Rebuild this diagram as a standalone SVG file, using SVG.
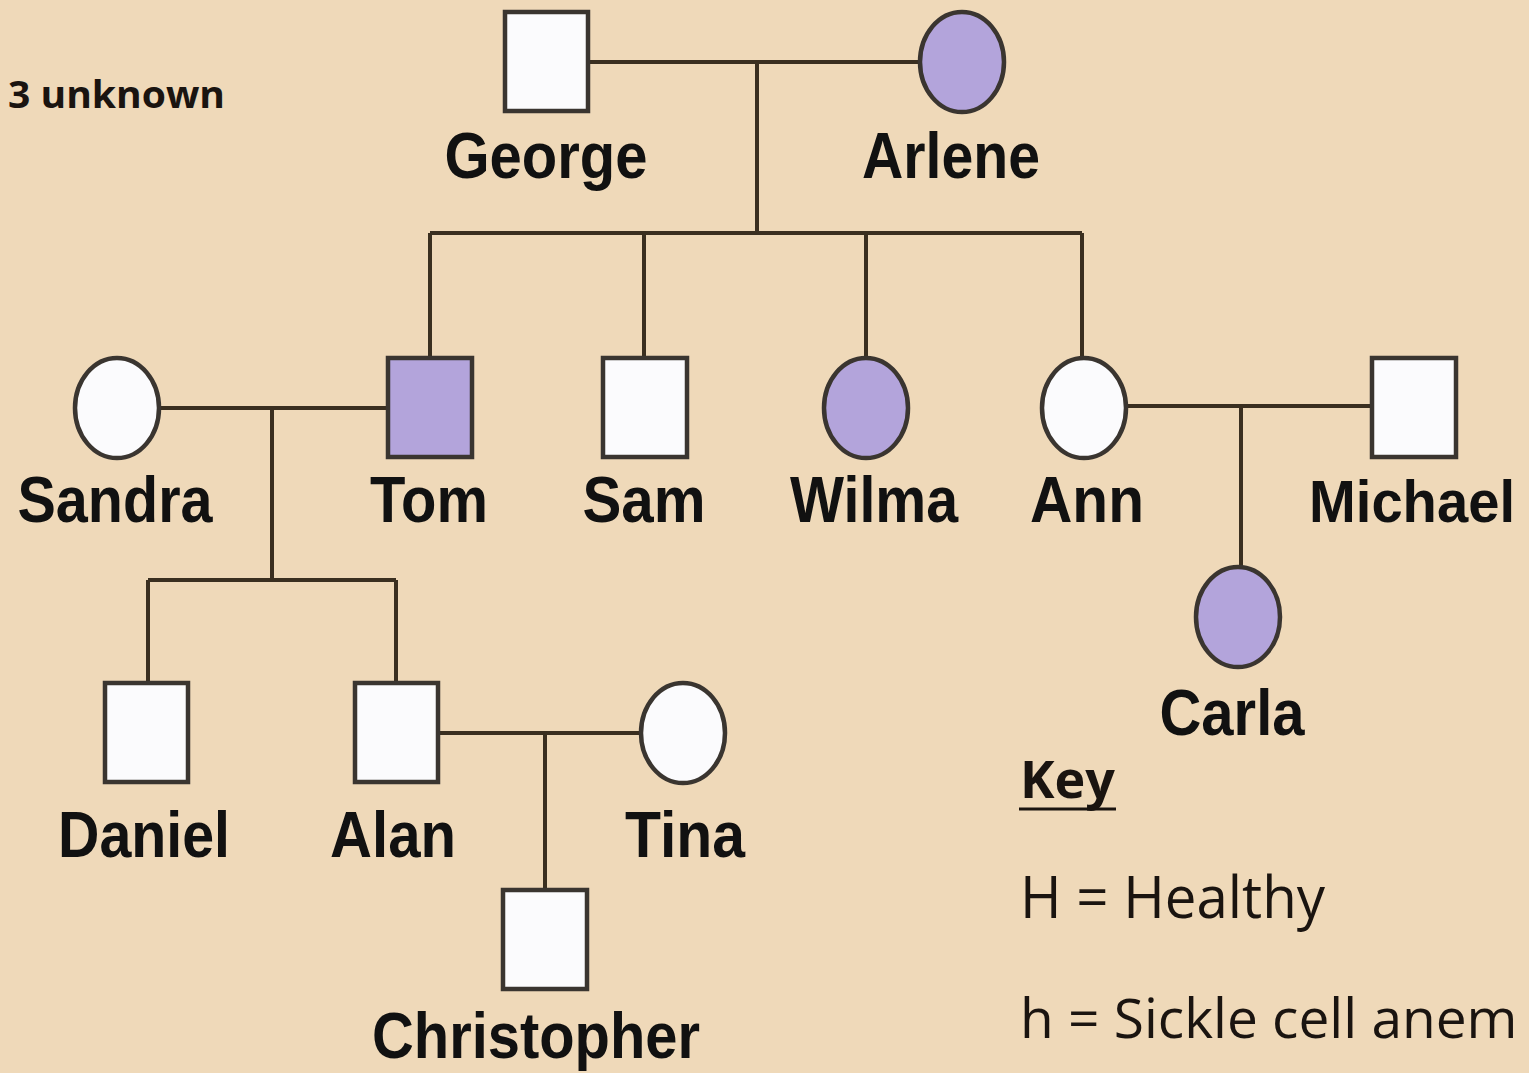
<svg xmlns="http://www.w3.org/2000/svg" width="1529" height="1073" viewBox="0 0 1529 1073">
<style>
.bg{fill:#efd9b9}
.ln{stroke:#3a2f20;stroke-width:4;fill:none}
.sq,.el{stroke:#3a3530;stroke-width:4.5}
.w{fill:#fbfbfd}
.p{fill:#b3a4db}
.lbl{font-family:"Liberation Sans",Arial,sans-serif;font-weight:bold;font-size:64px;fill:#111;text-anchor:middle}
.key{font-family:"Open Sans","Noto Sans",sans-serif;fill:#1a1410}
</style>
<rect class="bg" x="0" y="0" width="1529" height="1073"/>
<g id="connectors">
<path class="ln" d="M588 62H920M757 62V233M430 233H1082M430 233V358M644 233V358M866 233V358M1082 233V358"/>
<path class="ln" d="M159 408H388M272 408V580M148 580H396M148 580V683M396 580V683"/>
<path class="ln" d="M438 733H641M545 733V890"/>
<path class="ln" d="M1126 406H1372M1241 406V568"/>
</g>
<g id="george"><rect class="sq w" x="505" y="12" width="83" height="99"/><text class="lbl" x="546" y="178" textLength="203" lengthAdjust="spacingAndGlyphs">George</text></g>
<g id="arlene"><ellipse class="el p" cx="962" cy="62" rx="42" ry="50"/><text class="lbl" x="951" y="178" textLength="178" lengthAdjust="spacingAndGlyphs">Arlene</text></g>
<g id="sandra"><ellipse class="el w" cx="117" cy="408" rx="42" ry="50"/><text class="lbl" x="115" y="522" textLength="195" lengthAdjust="spacingAndGlyphs">Sandra</text></g>
<g id="tom"><rect class="sq p" x="388" y="358" width="84" height="99"/><text class="lbl" x="429" y="522" textLength="118" lengthAdjust="spacingAndGlyphs">Tom</text></g>
<g id="sam"><rect class="sq w" x="603" y="358" width="84" height="99"/><text class="lbl" x="644" y="522" textLength="123" lengthAdjust="spacingAndGlyphs">Sam</text></g>
<g id="wilma"><ellipse class="el p" cx="866" cy="408" rx="42" ry="50"/><text class="lbl" x="874" y="522" textLength="168" lengthAdjust="spacingAndGlyphs">Wilma</text></g>
<g id="ann"><ellipse class="el w" cx="1084" cy="408" rx="42" ry="50"/><text class="lbl" x="1087" y="522" textLength="114" lengthAdjust="spacingAndGlyphs">Ann</text></g>
<g id="michael"><rect class="sq w" x="1372" y="358" width="84" height="99"/><text class="lbl" x="1412" y="522" style="font-size:60px" textLength="206" lengthAdjust="spacingAndGlyphs">Michael</text></g>
<g id="carla"><ellipse class="el p" cx="1238" cy="617" rx="42" ry="50"/><text class="lbl" x="1232" y="735" textLength="145" lengthAdjust="spacingAndGlyphs">Carla</text></g>
<g id="daniel"><rect class="sq w" x="105" y="683" width="83" height="99"/><text class="lbl" x="144" y="857" textLength="172" lengthAdjust="spacingAndGlyphs">Daniel</text></g>
<g id="alan"><rect class="sq w" x="355" y="683" width="83" height="99"/><text class="lbl" x="393" y="857" textLength="126" lengthAdjust="spacingAndGlyphs">Alan</text></g>
<g id="tina"><ellipse class="el w" cx="683" cy="733" rx="42" ry="50"/><text class="lbl" x="685" y="857" textLength="120" lengthAdjust="spacingAndGlyphs">Tina</text></g>
<g id="christopher"><rect class="sq w" x="503" y="890" width="84" height="99"/><text class="lbl" x="536" y="1058" textLength="328" lengthAdjust="spacingAndGlyphs">Christopher</text></g>
<g id="note"><text class="key" x="8" y="108" font-size="38" font-weight="bold" textLength="217" lengthAdjust="spacingAndGlyphs">3 unknown</text></g>
<g id="key">
<text class="key" x="1020" y="798" font-size="52" font-weight="bold" textLength="95" lengthAdjust="spacingAndGlyphs">Key</text>
<line x1="1019" y1="809" x2="1116" y2="809" stroke="#1a1410" stroke-width="3"/>
<text class="key" x="1020" y="918" font-size="58" font-weight="500" textLength="305" lengthAdjust="spacingAndGlyphs">H = Healthy</text>
<text class="key" x="1020" y="1038" font-size="55" font-weight="500">h = Sickle cell anem</text>
</g>
</svg>
